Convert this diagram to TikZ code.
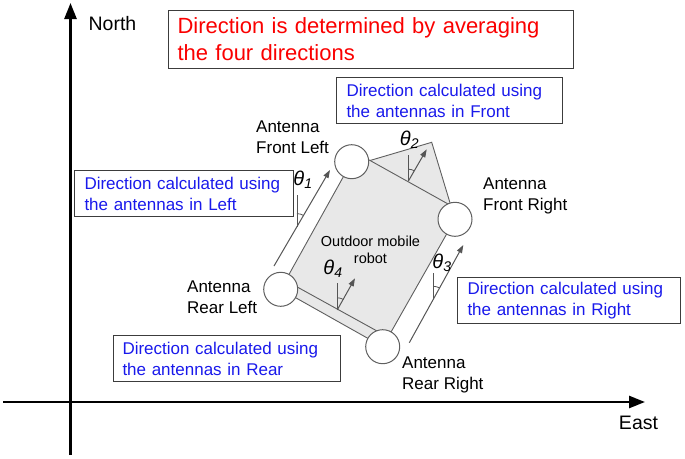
\documentclass[tikz,border=0pt]{standalone}
\usepackage{fontspec}
\setmainfont{Liberation Sans}
\usetikzlibrary{arrows.meta,calc}
\definecolor{txtblue}{RGB}{25,25,235}
\definecolor{txtred}{RGB}{250,0,0}
\definecolor{bodygray}{RGB}{232,232,232}
\definecolor{linegray}{RGB}{95,95,95}
\definecolor{arrowgray}{RGB}{85,85,85}
\definecolor{boxline}{RGB}{60,60,60}
\begin{document}
\begin{tikzpicture}[x=1pt,y=-1pt,
  axis/.style={draw=black,line width=2.6pt,-{Triangle[length=16pt,width=12pt]}},
  infobox/.style={draw=boxline,line width=1pt,align=left,text=txtblue,
    inner ysep=0pt,minimum height=46pt,font=\fontsize{17}{21}\selectfont},
  titlebox/.style={draw=boxline,line width=1pt,align=left,text=txtred,
    inner xsep=9pt,inner ysep=0pt,text width=387pt,minimum height=58pt,
    font=\fontsize{22}{27}\selectfont},
  lbl/.style={align=left,inner sep=0pt,font=\fontsize{17}{21}\selectfont},
  axlbl/.style={inner sep=0pt,font=\fontsize{19.5}{22}\selectfont},
  ant/.style={circle,draw=linegray,fill=white,line width=1pt,minimum size=34pt,inner sep=0pt},
  edge/.style={draw=linegray,line width=0.9pt},
  garrow/.style={draw=arrowgray,line width=1pt,-{Triangle[length=8pt,width=5.5pt]}},
  ref/.style={draw=arrowgray,line width=0.8pt},
  thlbl/.style={inner sep=0pt,font=\fontsize{20}{22}\selectfont\itshape}
]
\useasboundingbox (0,0) rectangle (685,458);

% axes
\coordinate (yb) at (70.5,455);
\coordinate (yt) at (70.5,3);
\coordinate (xl) at (3,402);
\coordinate (xr) at (645,402);
\draw[axis] (yb) -- (yt);
\draw[axis] (xl) -- (xr);
\node[axlbl] (north) at (112.5,24) {North};
\node[axlbl] (east) at (638.5,423) {East};

% robot geometry
\coordinate (FLc) at (351.7,161.7);
\coordinate (FRc) at (455,219.3);
\coordinate (RLc) at (280.7,289.3);
\coordinate (RRc) at (382.7,346.7);
\coordinate (P1) at ($(FLc)!-10pt!(RLc)$);
\coordinate (P2) at ($(FRc)!-10pt!(RRc)$);
\coordinate (R1) at ($(RLc)!10pt!(FLc)$);
\coordinate (R2) at ($(RRc)!11pt!(FRc)$);
\coordinate (T0) at (370,160.5);
\coordinate (apex) at (431.7,142.3);

\fill[bodygray] (P1) -- (P2) -- (RRc) -- (RLc) -- cycle;
\fill[bodygray] (T0) -- (apex) -- (FRc) -- cycle;
\draw[edge] (FLc) -- (RLc);
\draw[edge] (FRc) -- (RRc);
\draw[edge] (P1) -- (P2);
\draw[edge] (R1) -- (R2);
\draw[edge] (RLc) -- (RRc);
\draw[edge] (T0) -- (apex) -- (FRc);

\node[ant] (FL) at (FLc) {};
\node[ant] (FR) at (FRc) {};
\node[ant] (RL) at (RLc) {};
\node[ant] (RR) at (RRc) {};

\node[align=center,inner sep=0pt,font=\fontsize{14.5}{17.5}\selectfont] (robot) at (370.5,250) {Outdoor mobile\\robot};

% theta 1
\coordinate (B1) at (274,266);
\coordinate (E1) at (330,170);
\coordinate (V1b) at ($(B1)!0.41!(E1)$);
\coordinate (V1t) at ($(V1b)+(0,-31.5)$);
\draw[garrow] (B1) -- (E1);
\draw[ref] (V1b) -- (V1t);
\draw[ref] (V1b) ++(-90:13) arc[start angle=-90,end angle=-60,radius=13];
\node[thlbl] (t1) at (303,180) {θ\textsubscript{1}};

% theta 2
\coordinate (B2) at (408.3,181.2);
\coordinate (E2) at (426.7,149.3);
\coordinate (V2t) at (408.3,155);
\draw[garrow] (B2) -- (E2);
\draw[ref] (B2) -- (V2t);
\draw[ref] (B2) ++(-90:12) arc[start angle=-90,end angle=-60,radius=12];
\node[thlbl] (t2) at (409.5,140) {θ\textsubscript{2}};

% theta 3
\coordinate (B3) at (409.3,342.7);
\coordinate (E3) at (463.3,245);
\coordinate (V3b) at ($(B3)!0.444!(E3)$);
\coordinate (V3t) at ($(V3b)+(0,-26.5)$);
\draw[garrow] (B3) -- (E3);
\draw[ref] (V3b) -- (V3t);
\draw[ref] (V3b) ++(-90:13) arc[start angle=-90,end angle=-61,radius=13];
\node[thlbl] (t3) at (442,263) {θ\textsubscript{3}};

% theta 4
\coordinate (B4) at (337.3,309.8);
\coordinate (E4) at (355,278.3);
\coordinate (V4t) at (337.3,282.7);
\draw[garrow] (B4) -- (E4);
\draw[ref] (B4) -- (V4t);
\draw[ref] (B4) ++(-90:12) arc[start angle=-90,end angle=-60,radius=12];
\node[thlbl] (t4) at (333,269) {θ\textsubscript{4}};

% antenna labels
\node[lbl,anchor=west] (lFL) at (256,137) {Antenna\\Front Left};
\node[lbl,anchor=west] (lFR) at (483,196) {Antenna\\Front Right};
\node[lbl,anchor=west] (lRL) at (187,297) {Antenna\\Rear Left};
\node[lbl,anchor=west] (lRR) at (402,374.5) {Antenna\\Rear Right};

% boxes
\node[titlebox,anchor=north west] (title) at (168,10) {Direction is determined by averaging\\the four directions};
\node[infobox,anchor=north west,inner xsep=10pt,text width=206pt] (bF) at (336,77) {Direction calculated using\\the antennas in Front};
\node[infobox,anchor=north west,inner xsep=10pt,text width=199pt] (bL) at (74,170) {Direction calculated using\\the antennas in Left};
\node[infobox,anchor=north west,inner xsep=10pt,text width=203pt] (bR) at (457,277) {Direction calculated using\\the antennas in Right};
\node[infobox,anchor=north west,inner xsep=9pt,text width=209pt] (bB) at (113,335) {Direction calculated using\\the antennas in Rear};
\end{tikzpicture}
\end{document}
